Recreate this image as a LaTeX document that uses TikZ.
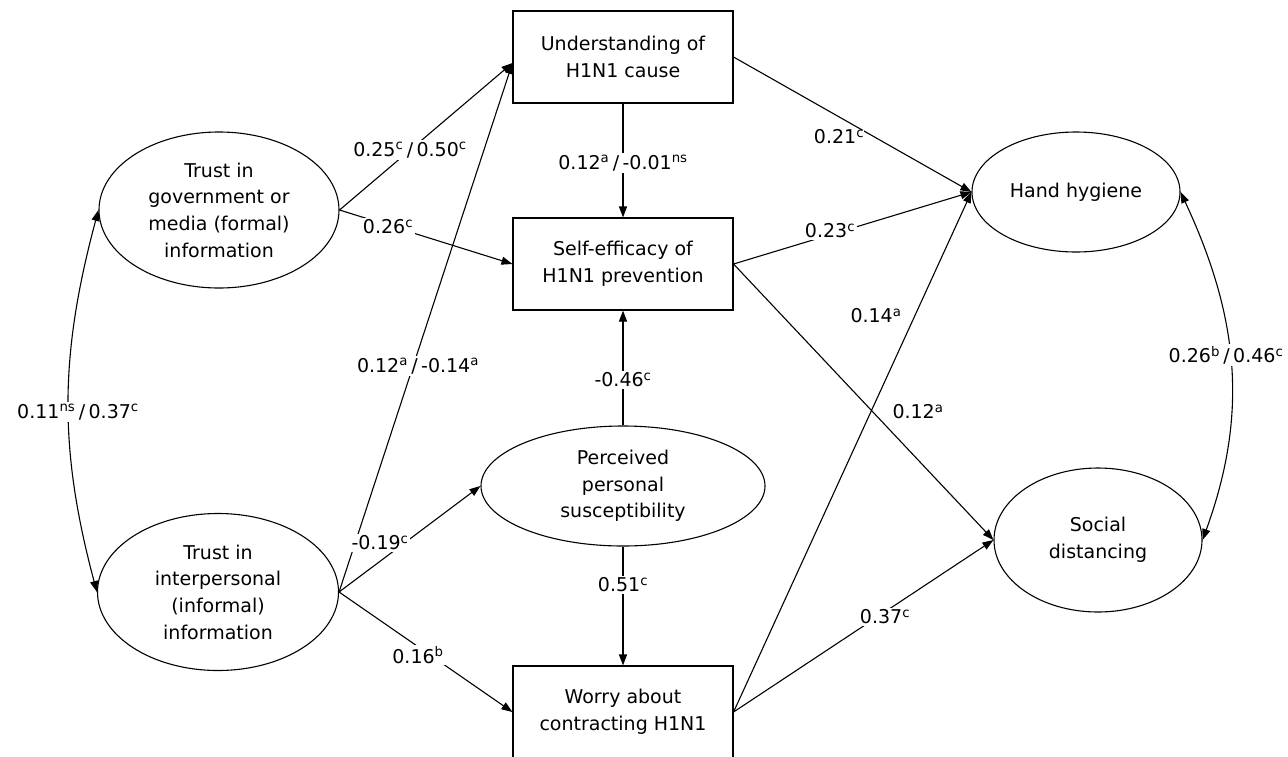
\documentclass[tikz,border=0pt]{standalone}
\usepackage{fontspec}
\setmainfont{DejaVu Sans}
\usetikzlibrary{shapes.geometric,arrows.meta}
\newcommand\sps[1]{\textsuperscript{#1}}
\newcommand\myslash{\hspace{0.18em}/\hspace{0.18em}}
\begin{document}
\begin{tikzpicture}[x=1pt,y=1pt,
  font=\fontsize{19}{26.7}\selectfont,
  box/.style={draw, line width=1.1pt, minimum width=220pt, minimum height=92pt, align=center, inner sep=0pt},
  ell/.style={draw, ellipse, line width=1.1pt, align=center, inner sep=0pt},
  lab/.style={fill=white, inner sep=2pt},
  arr/.style={-{Triangle[length=11pt,width=8pt]}, line width=1.1pt},
  dbl/.style={{Triangle[length=11pt,width=8pt]}-{Triangle[length=11pt,width=8pt]}, line width=1.1pt}]
\fill[white] (0,0) rectangle (1288,-756);
\useasboundingbox (0,0) rectangle (1288,-756);
% nodes
\node[box] (U) at (623,-57) {Understanding of\\H1N1 cause};
\node[box] (S) at (623,-264) {Self-efficacy of\\H1N1 prevention};
\node[box] (W) at (623,-712) {Worry about\\contracting H1N1};
\node[ell, minimum width=240pt, minimum height=156pt] (G) at (219,-210) {Trust in\\government or\\media (formal)\\information};
\node[ell, minimum width=241pt, minimum height=157pt] (I) at (218,-592) {Trust in\\interpersonal\\(informal)\\information};
\node[ell, minimum width=284pt, minimum height=120pt] (P) at (623,-486) {Perceived\\personal\\susceptibility};
\node[ell, minimum width=208pt, minimum height=120pt] (H) at (1076,-192) {Hand hygiene};
\node[ell, minimum width=208pt, minimum height=144pt] (D) at (1098,-540) {Social\\distancing};
% connectors
\coordinate (Uin) at ([yshift=-6pt]U.west);
\draw[arr] (G.east) -- (Uin);
\draw[arr] (G.east) -- (S.west);
\draw[arr] (I.east) -- (Uin);
\draw[arr] (I.east) -- (P.west);
\draw[arr] (I.east) -- (W.west);
\draw[arr] (U.south) -- (S.north);
\draw[arr] (P.north) -- (S.south);
\draw[arr] (P.south) -- (W.north);
\draw[arr] (U.east) -- (H.west);
\draw[arr] (S.east) -- (H.west);
\draw[arr] (W.east) -- (H.west);
\draw[arr] (S.east) -- (D.west);
\draw[arr] (W.east) -- (D.west);
\draw[dbl] (G.west) to[out=255,in=105] (I.west);
\draw[dbl] (H.east) to[out=-65,in=70] (D.east);
% labels
\node[lab] (l1) at (410,-150) {0.25\sps{c}\myslash 0.50\sps{c}};
\node[lab] (l2) at (388,-227) {0.26\sps{c}};
\node[lab] (l3) at (418,-366) {0.12\sps{a}\myslash -0.14\sps{a}};
\node[lab] (l4) at (380,-543) {-0.19\sps{c}};
\node[lab] (l5) at (418,-655) {0.16\sps{b}};
\node[lab] (l6) at (623,-163) {0.12\sps{a}\myslash -0.01\sps{ns}};
\node[lab] (l7) at (623,-380) {-0.46\sps{c}};
\node[lab] (l8) at (623,-585) {0.51\sps{c}};
\node[lab, inner sep=0pt] (l9) at (839,-137) {0.21\sps{c}};
\node[lab] (l10) at (830,-231) {0.23\sps{c}};
\node[lab] (l11) at (876,-316) {0.14\sps{a}};
\node[lab] (l12) at (918,-412) {0.12\sps{a}};
\node[lab] (l13) at (885,-617) {0.37\sps{c}};
\node[lab] (l14) at (78,-412) {0.11\sps{ns}\myslash 0.37\sps{c}};
\node[lab] (l15) at (1226,-355) {0.26\sps{b}\myslash 0.46\sps{c}};
\end{tikzpicture}
\end{document}
